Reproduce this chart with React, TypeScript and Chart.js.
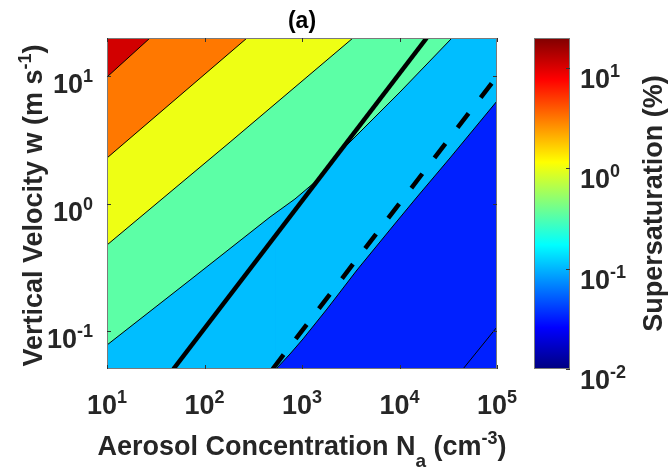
import React, { useEffect, useRef } from 'react';
import { Chart, registerables } from 'chart.js';

Chart.register(...registerables);

// ---- axis limits ----
const X_MIN = 10;
const X_MAX = 100000;
const Y_MIN = 0.05;
const Y_MAX = 20;
const CB_MIN = 0.01;
const CB_MAX = 20;

// ---- contour boundaries (aerosol concentration Na, vertical velocity w) ----
// S = 10 %
const cS10N = [10, 27.6, 100000];
const cS10W = [9.87, 20, 20];
// S = 10^0.5 %
const cS3N = [10, 273, 100000];
const cS3W = [2.28, 20, 20];
// S = 1 %
const cS1N = [10, 183, 3334, 100000];
const cS1W = [0.472, 3.04, 20, 20];
// S = 10^-0.5 %
const cS03N = [10, 71, 470, 847, 1359, 1937, 2761, 10120, 34520, 100000];
const cS03W = [0.0772, 0.25, 0.783, 1.085, 1.475, 2.04, 2.78, 7.52, 20, 20];
// S = 0.1 %
const cS01N = [10, 541, 753, 1023, 1804, 3664, 8576, 15110, 32960, 100000];
const cS01W = [0.05, 0.05, 0.0656, 0.0861, 0.148, 0.3, 0.665, 1.124, 2.28, 6.39];
// S = 10^-1.5 %
const cS003N = [10, 44780, 100000];
const cS003W = [0.05, 0.05, 0.107];
// floor of the filled field
const floorN = [10, 100000];
const floorW = [0.05, 0.05];

// ---- black reference lines ----
const solidN = [48, 19000];
const solidW = [0.05, 20];
const dashN = [500, 100000];
const dashW = [0.05, 10];

// ---- band colours (jet, log10 S levels 1, 0.5, 0, -0.5, -1, -1.5) ----
const bandColors = ['#D20000', '#FF7800', '#EEFF14', '#5CFFA6', '#00BEFF', '#0020FF'];

// ---- ticks ----
const xTickValues = [10, 100, 1000, 10000, 100000];
const xTickExps = ['1', '2', '3', '4', '5'];
const yTickValues = [0.1, 1, 10];
const yTickExps = ['-1', '0', '1'];
const cbTickValues = [0.01, 0.1, 1, 10];
const cbTickExps = ['-2', '-1', '0', '1'];

// ---- colormap (jet) ----
const jetStops: [number, string][] = [
  [0, '#000080'],
  [0.125, '#0000FF'],
  [0.375, '#00FFFF'],
  [0.625, '#FFFF00'],
  [0.875, '#FF0000'],
  [1, '#800000'],
];

// ---- texts ----
type Part = { t: string; size: number; dy: number };
const BIG = 27;
const SMALL = 18;
const titleText = '(a)';
const xTitleParts: Part[] = [
  { t: 'Aerosol Concentration N', size: BIG, dy: 0 },
  { t: 'a', size: 19, dy: 12 },
  { t: ' (cm', size: BIG, dy: 0 },
  { t: '-3', size: SMALL, dy: -11 },
  { t: ')', size: BIG, dy: 0 },
];
const yTitleParts: Part[] = [
  { t: 'Vertical Velocity w (m s', size: BIG, dy: 0 },
  { t: '-1', size: SMALL, dy: -11 },
  { t: ')', size: BIG, dy: 0 },
];
const cbTitleParts: Part[] = [{ t: 'Supersaturation (%)', size: BIG, dy: 0 }];

const FONT = "'Liberation Sans', Arial, Helvetica, sans-serif";
const TEXT_COLOR = '#262626';

function pts(ns: number[], ws: number[]) {
  return ns.map((n, i) => ({ x: n, y: ws[i] }));
}

function contourDataset(ns: number[], ws: number[], fillColor: string | null) {
  const data = pts(ns, ws);
  const onEdge = (i: number, j: number) =>
    data[i].y === data[j].y && (data[i].y === Y_MIN || data[i].y === Y_MAX);
  return {
    data,
    borderColor: '#000000',
    borderWidth: 1,
    pointRadius: 0,
    tension: 0,
    fill: fillColor ? 'end' : false,
    backgroundColor: fillColor || 'rgba(0,0,0,0)',
    segment: {
      borderColor: (c: any) => (onEdge(c.p0DataIndex, c.p1DataIndex) ? 'rgba(0,0,0,0)' : '#000000'),
    },
  };
}

function drawRich(ctx: CanvasRenderingContext2D, parts: Part[], x: number, y: number, align: 'left' | 'center' | 'right') {
  const widths = parts.map((p) => {
    ctx.font = `bold ${p.size}px ${FONT}`;
    return ctx.measureText(p.t).width;
  });
  const total = widths.reduce((a, b) => a + b, 0);
  let cx = align === 'center' ? x - total / 2 : align === 'right' ? x - total : x;
  ctx.textAlign = 'left';
  ctx.textBaseline = 'alphabetic';
  parts.forEach((p, i) => {
    ctx.font = `bold ${p.size}px ${FONT}`;
    ctx.fillText(p.t, cx, y + p.dy);
    cx += widths[i];
  });
}

const decorPlugin = {
  id: 'decor',
  afterDraw(chart: any) {
    const ctx: CanvasRenderingContext2D = chart.ctx;
    const area = chart.chartArea;
    const xs = chart.scales.x;
    const ys = chart.scales.y;
    const cb = chart.scales.cb;
    ctx.save();

    // frame
    ctx.strokeStyle = '#7a7a7a';
    ctx.lineWidth = 1;
    ctx.strokeRect(area.left + 0.5, area.top + 0.5, area.right - area.left - 1, area.bottom - area.top - 1);

    // inner tick marks
    ctx.strokeStyle = '#333333';
    ctx.beginPath();
    xTickValues.forEach((v) => {
      const px = Math.round(xs.getPixelForValue(v)) + 0.5;
      ctx.moveTo(px, area.bottom);
      ctx.lineTo(px, area.bottom - 4);
      ctx.moveTo(px, area.top);
      ctx.lineTo(px, area.top + 4);
    });
    yTickValues.forEach((v) => {
      const py = Math.round(ys.getPixelForValue(v)) + 0.5;
      ctx.moveTo(area.left, py);
      ctx.lineTo(area.left + 4, py);
      ctx.moveTo(area.right, py);
      ctx.lineTo(area.right - 4, py);
    });
    ctx.stroke();

    // tick labels
    ctx.fillStyle = TEXT_COLOR;
    xTickValues.forEach((v, i) => {
      drawRich(ctx, [{ t: '10', size: BIG, dy: 0 }, { t: xTickExps[i], size: SMALL, dy: -11 }],
        xs.getPixelForValue(v), area.bottom + 45, 'center');
    });
    yTickValues.forEach((v, i) => {
      drawRich(ctx, [{ t: '10', size: BIG, dy: 0 }, { t: yTickExps[i], size: SMALL, dy: -11 }],
        area.left - 14, ys.getPixelForValue(v) + 17, 'right');
    });

    // axis titles
    drawRich(ctx, xTitleParts, (area.left + area.right) / 2, area.bottom + 86, 'center');
    ctx.save();
    ctx.translate(42, (area.top + area.bottom) / 2 + 2);
    ctx.rotate(-Math.PI / 2);
    drawRich(ctx, yTitleParts, 0, 0, 'center');
    ctx.restore();

    // title
    ctx.fillStyle = '#000000';
    ctx.font = `bold 23px ${FONT}`;
    ctx.textAlign = 'center';
    ctx.textBaseline = 'alphabetic';
    ctx.fillText(titleText, (area.left + area.right) / 2, 28);

    // colorbar
    const cx0 = area.right + 37;
    const cx1 = area.right + 73;
    const cTop = cb.getPixelForValue(CB_MAX);
    const cBot = cb.getPixelForValue(CB_MIN);
    const grad = ctx.createLinearGradient(0, cBot, 0, cTop);
    jetStops.forEach(([p, c]) => grad.addColorStop(p, c));
    ctx.fillStyle = grad;
    ctx.fillRect(cx0, cTop, cx1 - cx0, cBot - cTop);
    ctx.strokeStyle = '#7a7a7a';
    ctx.strokeRect(cx0 + 0.5, cTop + 0.5, cx1 - cx0 - 1, cBot - cTop - 1);
    ctx.strokeStyle = '#333333';
    ctx.beginPath();
    cbTickValues.forEach((v) => {
      const py = Math.round(cb.getPixelForValue(v)) + 0.5;
      ctx.moveTo(cx1, py);
      ctx.lineTo(cx1 - 4, py);
    });
    ctx.stroke();
    ctx.fillStyle = TEXT_COLOR;
    cbTickValues.forEach((v, i) => {
      drawRich(ctx, [{ t: '10', size: BIG, dy: 0 }, { t: cbTickExps[i], size: SMALL, dy: -11 }],
        area.right + 83, cb.getPixelForValue(v) + 20, 'left');
    });
    ctx.save();
    ctx.translate(area.right + 165, (area.top + area.bottom) / 2);
    ctx.rotate(-Math.PI / 2);
    drawRich(ctx, cbTitleParts, 0, 0, 'center');
    ctx.restore();

    ctx.restore();
  },
};

export default function App() {
  const ref = useRef<HTMLCanvasElement | null>(null);

  useEffect(() => {
    if (!ref.current) return;
    const datasets: any[] = [
      {
        data: pts(solidN, solidW),
        borderColor: '#000000',
        borderWidth: 4.5,
        pointRadius: 0,
        fill: false,
        borderCapStyle: 'butt',
      },
      {
        data: pts(dashN, dashW),
        borderColor: '#000000',
        borderWidth: 4.5,
        borderDash: [18, 20],
        pointRadius: 0,
        fill: false,
        borderCapStyle: 'butt',
      },
      contourDataset(cS10N, cS10W, bandColors[0]),
      contourDataset(cS3N, cS3W, bandColors[1]),
      contourDataset(cS1N, cS1W, bandColors[2]),
      contourDataset(cS03N, cS03W, bandColors[3]),
      contourDataset(cS01N, cS01W, bandColors[4]),
      contourDataset(cS003N, cS003W, null),
      { ...contourDataset(floorN, floorW, bandColors[5]), borderWidth: 0 },
    ];

    const chart = new Chart(ref.current, {
      type: 'line',
      data: { datasets },
      plugins: [decorPlugin],
      options: {
        responsive: false,
        animation: false,
        devicePixelRatio: 1,
        layout: { padding: { top: 38, left: 0, right: 0, bottom: 0 } },
        plugins: { legend: { display: false }, tooltip: { enabled: false }, title: { display: false } },
        events: [],
        scales: {
          x: {
            type: 'logarithmic',
            min: X_MIN,
            max: X_MAX,
            position: 'bottom',
            grid: { display: false },
            border: { display: false },
            ticks: { display: false },
            afterFit: (s: any) => { s.height = 100; },
          },
          y: {
            type: 'logarithmic',
            min: Y_MIN,
            max: Y_MAX,
            position: 'left',
            grid: { display: false },
            border: { display: false },
            ticks: { display: false },
            afterFit: (s: any) => { s.width = 107; },
          },
          cb: {
            type: 'logarithmic',
            min: CB_MIN,
            max: CB_MAX,
            position: 'right',
            grid: { display: false },
            border: { display: false },
            ticks: { display: false },
            afterFit: (s: any) => { s.width = 175; },
          },
        },
      } as any,
    });
    return () => chart.destroy();
  }, []);

  return (
    <div style={{ position: 'fixed', left: 0, top: 0, width: 672, height: 469, background: '#ffffff' }}>
      <canvas ref={ref} width={672} height={469} style={{ display: 'block' }} />
    </div>
  );
}
